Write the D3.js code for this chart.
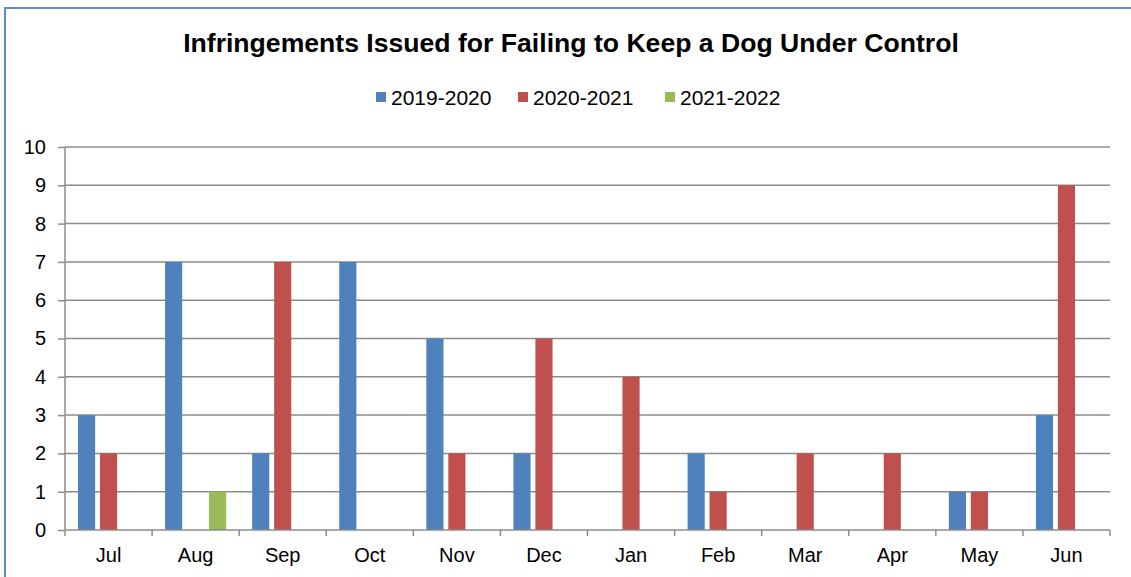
<!DOCTYPE html>
<html>
<head>
<meta charset="utf-8">
<script src="https://cdnjs.cloudflare.com/ajax/libs/d3/7.8.5/d3.min.js"></script>
<style>
  html, body { margin: 0; padding: 0; background: #fff; }
  svg { display: block; font-family: "Liberation Sans", Arial, sans-serif; }
</style>
</head>
<body>
<svg id="chart" width="1131" height="577"></svg>
<script>
const months = ["Jul","Aug","Sep","Oct","Nov","Dec","Jan","Feb","Mar","Apr","May","Jun"];
const seriesNames = ["2019-2020","2020-2021","2021-2022"];
const s2019 = [3,7,2,7,5,2,0,2,0,0,1,3];
const s2020 = [2,0,7,0,2,5,4,1,2,2,1,9];
const s2021 = [0,1,0,0,0,0,0,0,0,0,0,0];
const colors = ["#4F81BD","#C0504D","#9BBB59"];
const yTicks = [0,1,2,3,4,5,6,7,8,9,10];
const title = "Infringements Issued for Failing to Keep a Dog Under Control";

const seriesVals = [s2019, s2020, s2021];
const svg = d3.select("#chart");
const FONT = "'Liberation Sans', Arial, sans-serif";

// outer frame
svg.append("rect").attr("x", 5).attr("y", 8).attr("width", 1130).attr("height", 580)
  .attr("fill", "none").attr("stroke", "#5E8ACB").attr("stroke-width", 2);

const pLeft = 65, pRight = 1110, pTop = 147, pBottom = 530;

const x = d3.scaleBand().domain(months).range([pLeft, pRight]).paddingInner(0).paddingOuter(0);
const x1 = d3.scaleBand().domain(seriesNames).range([13, x.bandwidth() - 13]).paddingInner(0.22).paddingOuter(0);
const y = d3.scaleLinear().domain([0, 10]).range([pBottom, pTop]);

// gridlines
svg.append("g").selectAll("line").data(yTicks.filter(d => d > 0)).join("line")
  .attr("x1", pLeft).attr("x2", pRight)
  .attr("y1", d => y(d)).attr("y2", d => y(d))
  .attr("stroke", "#8C8C8C").attr("stroke-width", 1.5);

// bars
const groups = svg.append("g").selectAll("g").data(months).join("g")
  .attr("transform", d => `translate(${x(d)},0)`);
groups.selectAll("rect").data((m, i) => seriesNames.map((s, k) => ({s, v: seriesVals[k][i], k})))
  .join("rect")
  .attr("x", d => x1(d.s))
  .attr("width", x1.bandwidth())
  .attr("y", d => y(d.v))
  .attr("height", d => y(0) - y(d.v))
  .attr("fill", d => colors[d.k]);

// y axis
const yAxis = d3.axisLeft(y).tickValues(yTicks).tickSize(7).tickPadding(12).tickFormat(d3.format("d"));
const yg = svg.append("g").attr("transform", `translate(${pLeft},0)`).call(yAxis);
yg.select(".domain").attr("stroke", "#8C8C8C").attr("stroke-width", 1.5).attr("d", `M0,${pTop}V${pBottom}`);
yg.selectAll(".tick line").attr("stroke", "#8C8C8C").attr("stroke-width", 1.5);
yg.selectAll("text").attr("font-size", 20).attr("fill", "#000").attr("font-family", FONT);

// x axis
const xAxis = d3.axisBottom(x).tickSize(0).tickPadding(18);
const xg = svg.append("g").attr("transform", `translate(0,${pBottom})`).call(xAxis);
xg.select(".domain").attr("stroke", "#8C8C8C").attr("stroke-width", 1.5).attr("d", `M${pLeft},0H${pRight}`);
xg.selectAll("text").attr("font-size", 20).attr("fill", "#000").attr("font-family", FONT);
// category boundary ticks
const bounds = months.map(m => x(m)).concat([pRight]);
svg.append("g").selectAll("line").data(bounds).join("line")
  .attr("x1", d => d).attr("x2", d => d).attr("y1", pBottom).attr("y2", pBottom + 6)
  .attr("stroke", "#8C8C8C").attr("stroke-width", 1.5);

// title
svg.append("text").attr("x", 571).attr("y", 52).attr("text-anchor", "middle")
  .attr("font-size", 26.6).attr("font-weight", "bold").attr("fill", "#000")
  .attr("font-family", FONT).text(title);

// legend
const legendX = [376, 518, 665];
const lg = svg.append("g").selectAll("g").data(seriesNames).join("g")
  .attr("transform", (d, i) => `translate(${legendX[i]},0)`);
lg.append("rect").attr("x", 0).attr("y", 92).attr("width", 10).attr("height", 10)
  .attr("fill", (d, i) => colors[i]);
lg.append("text").attr("x", 15).attr("y", 105).attr("font-size", 21).attr("fill", "#000")
  .attr("font-family", FONT).text(d => d);
</script>
</body>
</html>
